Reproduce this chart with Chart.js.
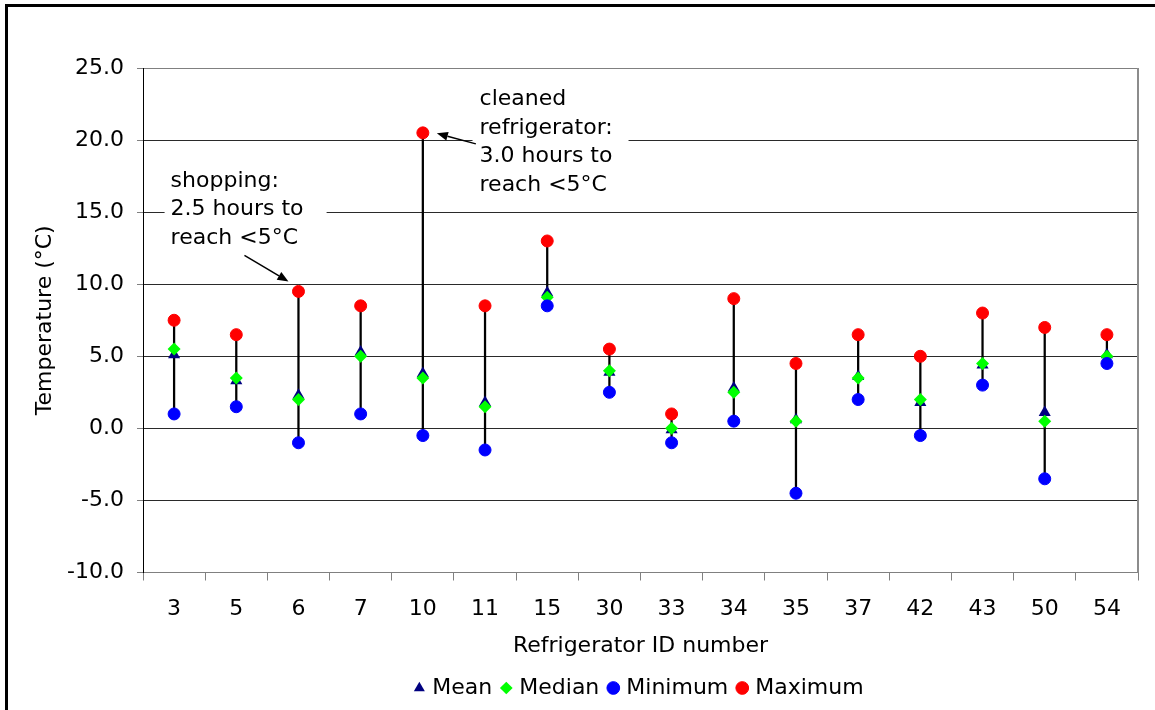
<!DOCTYPE html>
<html><head><meta charset="utf-8">
<script src="https://cdn.jsdelivr.net/npm/chart.js@4.4.1/dist/chart.umd.min.js"></script>
<style>
html,body{margin:0;padding:0;background:#fff;}
#wrap{position:relative;width:1155px;height:710px;overflow:hidden;background:#fff;}
#frame{position:absolute;left:5px;top:4px;width:1200px;height:800px;border-top:3px solid #000;border-left:3px solid #000;}
canvas{position:absolute;left:0;top:0;}
</style></head>
<body><div id="wrap"><div id="frame"></div><canvas id="c" width="1155" height="710"></canvas></div>
<script>
const categories   = ['3','5','6','7','10','11','15','30','33','34','35','37','42','43','50','54'];
const meanValues   = [5.1, 3.3, 2.3, 5.3, 3.8, 1.8, 9.4, 3.9, -0.1, 2.8, 0.6, 3.6, 1.8, 4.4, 1.1, 5.1];
const medianValues = [5.5, 3.5, 2.0, 5.0, 3.5, 1.5, 9.1, 4.0, 0.0, 2.5, 0.5, 3.5, 2.0, 4.5, 0.5, 5.0];
const minValues    = [1.0, 1.5, -1.0, 1.0, -0.5, -1.5, 8.5, 2.5, -1.0, 0.5, -4.5, 2.0, -0.5, 3.0, -3.5, 4.5];
const maxValues    = [7.5, 6.5, 9.5, 8.5, 20.5, 8.5, 13.0, 5.5, 1.0, 9.0, 4.5, 6.5, 5.0, 8.0, 7.0, 6.5];
const yTicks       = [-10, -5, 0, 5, 10, 15, 20, 25];
const seriesNames  = ['Mean', 'Median', 'Minimum', 'Maximum'];
const xTitle = 'Refrigerator ID number';
const yTitle = 'Temperature (°C)';
const noteShopping = ['shopping:', '2.5 hours to', 'reach <5°C'];
const noteCleaned  = ['cleaned', 'refrigerator:', '3.0 hours to', 'reach <5°C'];

const FONT = '"DejaVu Sans", Verdana, sans-serif';
const FS = 22;
Chart.defaults.font.family = FONT;
Chart.defaults.font.size = FS;
Chart.defaults.color = '#000';

function arrow(ctx, x1, y1, x2, y2) {
  const a = Math.atan2(y2 - y1, x2 - x1);
  const hl = 11, hw = 4.5;
  const bx = x2 - hl * Math.cos(a), by = y2 - hl * Math.sin(a);
  ctx.save();
  ctx.strokeStyle = '#000'; ctx.fillStyle = '#000'; ctx.lineWidth = 1.5;
  ctx.beginPath(); ctx.moveTo(x1, y1); ctx.lineTo(bx, by); ctx.stroke();
  ctx.beginPath();
  ctx.moveTo(x2, y2);
  ctx.lineTo(bx + hw * Math.sin(a), by - hw * Math.cos(a));
  ctx.lineTo(bx - hw * Math.sin(a), by + hw * Math.cos(a));
  ctx.closePath(); ctx.fill();
  ctx.restore();
}

const notesPlugin = {
  id: 'notes',
  beforeDatasetsDraw(chart) {
    const {ctx, scales: {x, y}} = chart;
    ctx.save();
    ctx.font = FS + 'px ' + FONT;
    ctx.textBaseline = 'alphabetic';
    ctx.textAlign = 'left';
    const lh = 28.4;
    // shopping note
    const sx = x.getPixelForValue(0) - 3.5;
    const sy = y.getPixelForValue(16.75);
    ctx.fillStyle = '#fff';
    ctx.fillRect(sx - 6, sy - 22, 162, 90);
    ctx.fillStyle = '#000';
    noteShopping.forEach((t, i) => ctx.fillText(t, sx, sy + i * lh));
    // cleaned note
    const cx = x.getPixelForValue(5) - 5.5;
    const cy = y.getPixelForValue(22.4);
    ctx.fillStyle = '#fff';
    ctx.fillRect(cx - 7, cy - 22, 156, 118);
    ctx.fillStyle = '#000';
    noteCleaned.forEach((t, i) => ctx.fillText(t, cx, cy + i * lh));
    ctx.restore();
  },
  afterDatasetsDraw(chart) {
    const {ctx, chartArea, scales: {x, y}} = chart;
    ctx.save();
    ctx.strokeStyle = '#8c8c8c'; ctx.lineWidth = 2;
    ctx.beginPath(); ctx.moveTo(chartArea.right, chartArea.top); ctx.lineTo(chartArea.right, chartArea.bottom); ctx.stroke();
    ctx.restore();
    const i6 = categories.indexOf('6');
    const px6 = x.getPixelForValue(i6), py6 = y.getPixelForValue(maxValues[i6]);
    arrow(ctx, px6 - 54, py6 - 36, px6 - 10, py6 - 10);
    const i10 = categories.indexOf('10');
    const px10 = x.getPixelForValue(i10), py10 = y.getPixelForValue(maxValues[i10]);
    arrow(ctx, px10 + 53, py10 + 11, px10 + 14, py10 + 0.5);
  }
};

const gridCol = c => (c.tick && (c.tick.value === 25 || c.tick.value === -10)) ? '#808080' : '#2a2a2a';

new Chart(document.getElementById('c'), {
  data: {
    labels: categories,
    datasets: [
      { type: 'bar', label: 'range', data: categories.map((_, i) => [minValues[i], maxValues[i]]),
        backgroundColor: '#000', borderWidth: 0, barThickness: 1.6, order: 5 },
      { type: 'line', label: seriesNames[0], data: meanValues, showLine: false,
        pointStyle: 'triangle', pointRadius: 7, pointBorderWidth: 0,
        backgroundColor: '#000080', borderColor: '#000080', order: 3 },
      { type: 'line', label: seriesNames[1], data: medianValues, showLine: false,
        pointStyle: 'rectRot', pointRadius: 6.5, pointBorderWidth: 0,
        backgroundColor: '#00ff00', borderColor: '#00ff00', order: 2 },
      { type: 'line', label: seriesNames[2], data: minValues, showLine: false,
        pointStyle: 'circle', pointRadius: 6, pointBorderWidth: 1,
        backgroundColor: '#0000ff', borderColor: '#0000ff', order: 1 },
      { type: 'line', label: seriesNames[3], data: maxValues, showLine: false,
        pointStyle: 'circle', pointRadius: 6, pointBorderWidth: 1,
        backgroundColor: '#ff0000', borderColor: '#ff0000', order: 0 }
    ]
  },
  options: {
    responsive: false,
    animation: false,
    devicePixelRatio: 1,
    layout: { padding: { top: 68, right: 17, bottom: 1, left: 0 } },
    plugins: {
      tooltip: { enabled: false },
      legend: {
        position: 'bottom',
        fullSize: false,
        labels: {
          usePointStyle: true, boxWidth: 4, boxHeight: 9, padding: 12,
          font: { size: FS, family: FONT }, color: '#000',
          filter: item => seriesNames.includes(item.text),
          sort: (a, b) => a.datasetIndex - b.datasetIndex
        }
      }
    },
    scales: {
      x: {
        type: 'category',
        offset: true,
        grid: { display: true, offset: true, drawOnChartArea: false, drawTicks: true, tickLength: 8, color: '#808080', tickColor: '#808080' },
        border: { display: true, color: '#808080', width: 1 },
        ticks: { padding: 16, color: '#000', font: { size: FS }, maxRotation: 0, autoSkip: false },
        title: { display: true, text: xTitle, color: '#000', font: { size: FS }, padding: { top: 0, bottom: 6 } },
        afterFit: s => { s.height = 92.5; }
      },
      y: {
        min: -10, max: 25,
        afterBuildTicks: s => { s.ticks = yTicks.map(v => ({ value: v })); },
        grid: { color: gridCol, lineWidth: 1, drawTicks: true, tickLength: 6, tickColor: '#808080' },
        border: { display: true, color: '#000', width: 1 },
        ticks: { padding: 13, color: '#000', font: { size: FS }, callback: v => Number(v).toFixed(1) },
        title: { display: true, text: yTitle, color: '#000', font: { size: FS }, padding: { top: 32, bottom: 0 } },
        afterFit: s => { s.width = 143; }
      }
    }
  },
  plugins: [notesPlugin]
});
</script>
</body></html>
